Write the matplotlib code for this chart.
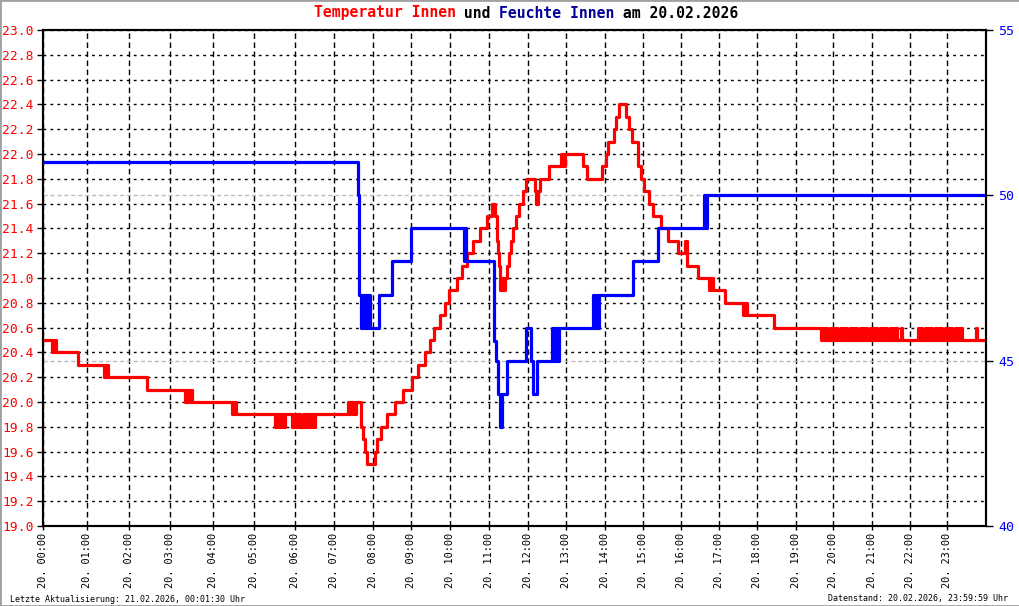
import matplotlib
matplotlib.use("Agg")
import matplotlib.pyplot as plt
from matplotlib.patches import Rectangle

# x = Messpunkt-Nummer (Position auf der Achse), Stufenwerte gelten bis zum naechsten Punkt
temp_x = [0, 9, 10, 11, 12, 13, 35, 61, 63, 65, 104, 142, 144, 146, 148, 149,
          189, 191, 193, 232, 234, 236, 238, 240, 242, 249, 251, 253, 255, 257,
          260, 262, 264, 266, 268, 270, 272, 305, 307, 309, 311, 313, 318, 320,
          322, 324, 332, 334, 338, 344, 352, 360, 369, 375, 382, 387, 391, 397,
          402, 406, 414, 419, 424, 430, 437, 444, 449, 452, 454, 455, 456, 457,
          459, 460, 462, 464, 466, 468, 470, 472, 475, 479, 482, 491, 492, 494,
          496, 505, 517, 518, 519, 520, 521, 539, 543, 558, 562, 564, 570, 572,
          575, 582, 585, 588, 594, 597, 600, 605, 609, 617, 624, 634, 641, 643,
          654, 665, 667, 669, 681, 699, 701, 703, 730, 777]
temp_v = [20.5, 20.4, 20.5, 20.4, 20.5, 20.4, 20.3, 20.2, 20.3, 20.2, 20.1, 20.0,
          20.1, 20.0, 20.1, 20.0, 19.9, 20.0, 19.9, 19.8, 19.9, 19.8, 19.9, 19.8,
          19.9, 19.8, 19.9, 19.8, 19.9, 19.8, 19.9, 19.8, 19.9, 19.8, 19.9, 19.8,
          19.9, 20.0, 19.9, 20.0, 19.9, 20.0, 19.8, 19.7, 19.6, 19.5, 19.6, 19.7,
          19.8, 19.9, 20.0, 20.1, 20.2, 20.3, 20.4, 20.5, 20.6, 20.7, 20.8, 20.9,
          21.0, 21.1, 21.2, 21.3, 21.4, 21.5, 21.6, 21.5, 21.3, 21.2, 21.1, 20.9,
          21.0, 20.9, 21.0, 21.1, 21.2, 21.3, 21.4, 21.5, 21.6, 21.7, 21.8, 21.7,
          21.6, 21.7, 21.8, 21.9, 22.0, 21.9, 22.0, 21.9, 22.0, 21.9, 21.8, 21.9,
          22.0, 22.1, 22.2, 22.3, 22.4, 22.3, 22.2, 22.1, 21.9, 21.8, 21.7, 21.6,
          21.5, 21.4, 21.3, 21.2, 21.3, 21.1, 21.0, 20.9, 21.0, 20.9, 20.8, 20.7,
          20.8, 20.7, 20.6, 20.5]
# kurze Ausreisser auf 20.6 am Abend
temp_spikes = [779, 782, 786, 789, 792, 796, 799, 802, 806, 809, 812, 816, 819,
               822, 826, 829, 832, 836, 839, 842, 846, 849, 852, 857,
               874, 877, 881, 884, 887, 891, 894, 897, 901, 904, 907, 911, 914,
               917, 932]

hum_x = [0, 315, 316, 318, 319, 321, 322, 324, 325, 327, 336, 349, 368, 421, 422,
         423, 451, 453, 455, 457, 459, 464, 482, 487, 489, 493, 508, 510, 512,
         514, 515, 549, 550, 552, 553, 555, 589, 614, 660, 662, 663]
hum_v = [51, 50, 47, 46, 47, 46, 47, 46, 47, 46, 47, 48, 49, 48, 49, 48, 45.6,
         45, 44, 43, 44, 45, 46, 45, 44, 45, 46, 45, 46, 45, 46, 47, 46, 47, 46,
         47, 48, 49, 50, 49, 50]

x_end = 942
hour_x = [0, 44, 86, 127, 170, 211, 252, 291, 330, 368, 407, 446, 484, 522, 561,
          599, 637, 675, 713, 752, 789, 828, 866, 903]
hour_labels = ["20. %02d:00" % h for h in range(24)]
temp_ticks = [19.0 + 0.2 * i for i in range(21)]
hum_ticks = [40, 45, 50, 55]

# Ausreisser in die Stufenreihe einbauen
tx = list(temp_x)
tv = list(temp_v)
for s in temp_spikes:
    tx += [s, s + 1.2]
    tv += [20.6, 20.5]
tx.append(x_end)
tv.append(20.5)
hx = hum_x + [x_end]
hv = hum_v + [hum_v[-1]]

mono = "DejaVu Sans Mono"
plt.rcParams['font.family'] = mono

fig = plt.figure(figsize=(10.2, 6.06), dpi=100)
ax = fig.add_axes([43.3 / 1020, 80 / 606, 942.4 / 1020, 496 / 606])
ax2 = ax.twinx()

ax.set_xlim(0, x_end)
ax.set_ylim(19, 23)
ax2.set_ylim(40, 55)

ax.set_yticks(temp_ticks)
ax.set_yticklabels(["%.1f" % t for t in temp_ticks], color="red", fontsize=9.4)
ax.set_xticks(hour_x)
ax.set_xticklabels(hour_labels, rotation=90, fontsize=7.4)
ax2.set_yticks(hum_ticks)
ax2.set_yticklabels([str(h) for h in hum_ticks], color="blue", fontsize=9.6)

ax.tick_params(axis="y", length=4, width=1, pad=3)
ax.tick_params(axis="x", length=3, width=1, pad=2)
ax2.tick_params(axis="y", length=5, width=1, pad=4)

ax.grid(axis="y", color="black", linestyle=(0, (2, 3)), linewidth=1.0)
ax.grid(axis="x", color="black", linestyle=(0, (4, 2.5)), linewidth=1.0)
ax.set_axisbelow(True)

for a in (ax, ax2):
    for sp in a.spines.values():
        sp.set_linewidth(1.5)
        sp.set_color("black")

# Hilfslinien der Feuchte-Achse
for h in (45, 50):
    ax2.axhline(h, color="#bbbbbb", linestyle=(0, (3, 2)), linewidth=1.0, zorder=1)

# Temperatur (rot) in Temperatur-Koordinaten, Feuchte (blau) darueber
ax2.step(tx, tv, where="post", color="red", linewidth=2.3, transform=ax.transData, zorder=2)
ax2.step(hx, hv, where="post", color="blue", linewidth=2.3, zorder=3)
ax2.set_xlim(0, x_end)
ax2.set_ylim(40, 55)

# Titel in mehreren Farben
parts = [("Temperatur Innen", "red"), (" und ", "black"),
         ("Feuchte Innen", "#000099"), (" am 20.02.2026", "black")]
cw = 8.85 / 1020
total = sum(len(p[0]) for p in parts)
x0 = 526 / 1020 - total * cw / 2
for txt, col in parts:
    fig.text(x0, 1 - 13 / 606, txt, color=col, fontsize=10.6, fontweight="bold",
             ha="left", va="center", family=mono)
    x0 += len(txt) * cw

fig.text(10 / 1020, 1 - 599 / 606, "Letzte Aktualisierung: 21.02.2026, 00:01:30 Uhr",
         fontsize=6.0, ha="left", va="center")
fig.text(1008 / 1020, 1 - 599 / 606, "Datenstand: 20.02.2026, 23:59:59 Uhr",
         fontsize=6.0, ha="right", va="center")

fig.patches.append(Rectangle((0, 0), 1, 1, transform=fig.transFigure, fill=False,
                             edgecolor="#a0a0a0", linewidth=2))

fig.savefig("out.png", dpi=100)
